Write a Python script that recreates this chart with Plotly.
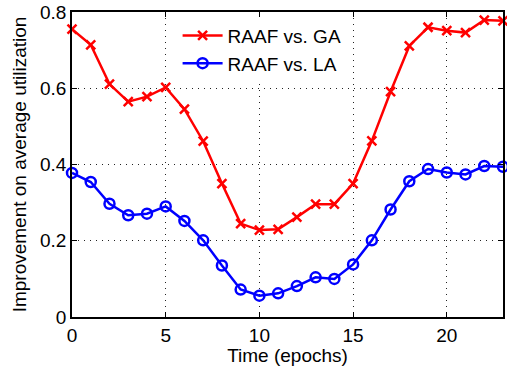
import plotly.graph_objects as go

epochs = list(range(24))
raaf_vs_ga = [0.755, 0.714, 0.611, 0.565, 0.578, 0.602, 0.545, 0.461, 0.350, 0.245,
              0.228, 0.230, 0.262, 0.296, 0.296, 0.350, 0.462, 0.591, 0.711, 0.760,
              0.751, 0.746, 0.779, 0.777]
raaf_vs_la = [0.378, 0.354, 0.297, 0.267, 0.271, 0.290, 0.252, 0.201, 0.135, 0.072,
              0.056, 0.062, 0.081, 0.104, 0.100, 0.138, 0.201, 0.282, 0.356, 0.388,
              0.379, 0.374, 0.396, 0.394]
x_ticks = [0, 5, 10, 15, 20]
y_ticks = [0, 0.2, 0.4, 0.6, 0.8]
y_tick_labels = ["0", "0.2", "0.4", "0.6", "0.8"]

font = "Liberation Sans, Arial, sans-serif"

fig = go.Figure()
fig.add_trace(go.Scatter(
    x=epochs, y=raaf_vs_ga, name="RAAF vs. GA", mode="lines+markers",
    line=dict(color="#ff0000", width=2.5),
    marker=dict(symbol="x-thin-open", size=9, color="#ff0000",
                line=dict(color="#ff0000", width=2.5)),
    cliponaxis=False))
fig.add_trace(go.Scatter(
    x=epochs, y=raaf_vs_la, name="RAAF vs. LA", mode="lines+markers",
    line=dict(color="#0000ff", width=2.5),
    marker=dict(symbol="circle-open", size=10, color="#0000ff",
                line=dict(color="#0000ff", width=2.5)),
    cliponaxis=False))

axis_common = dict(
    showline=True, linecolor="black", linewidth=1.5, mirror="ticks",
    ticks="inside", ticklen=5, tickcolor="black", tickwidth=1,
    showgrid=True, gridcolor="#222222", gridwidth=1, griddash="1px,5px",
    zeroline=False, tickfont=dict(family=font, size=19, color="black"),
)

fig.update_xaxes(range=[0, 23], tickvals=x_ticks, **axis_common,
                 title=dict(text="Time (epochs)", font=dict(family=font, size=19, color="black"),
                            standoff=4))
fig.update_yaxes(range=[0, 0.8], tickvals=y_ticks, ticktext=y_tick_labels, **axis_common,
                 title=dict(text="Improvement on average utilization",
                            font=dict(family=font, size=19, color="black"), standoff=8))

fig.update_layout(
    width=507, height=366,
    margin=dict(l=72, r=2, t=12, b=49),
    paper_bgcolor="white", plot_bgcolor="white",
    showlegend=True,
    legend=dict(x=0.245, y=0.985, xanchor="left", yanchor="top",
                bgcolor="white", borderwidth=0,
                font=dict(family=font, size=19, color="black"),
                tracegroupgap=0, itemwidth=40),
)

fig.write_html("out.html")
